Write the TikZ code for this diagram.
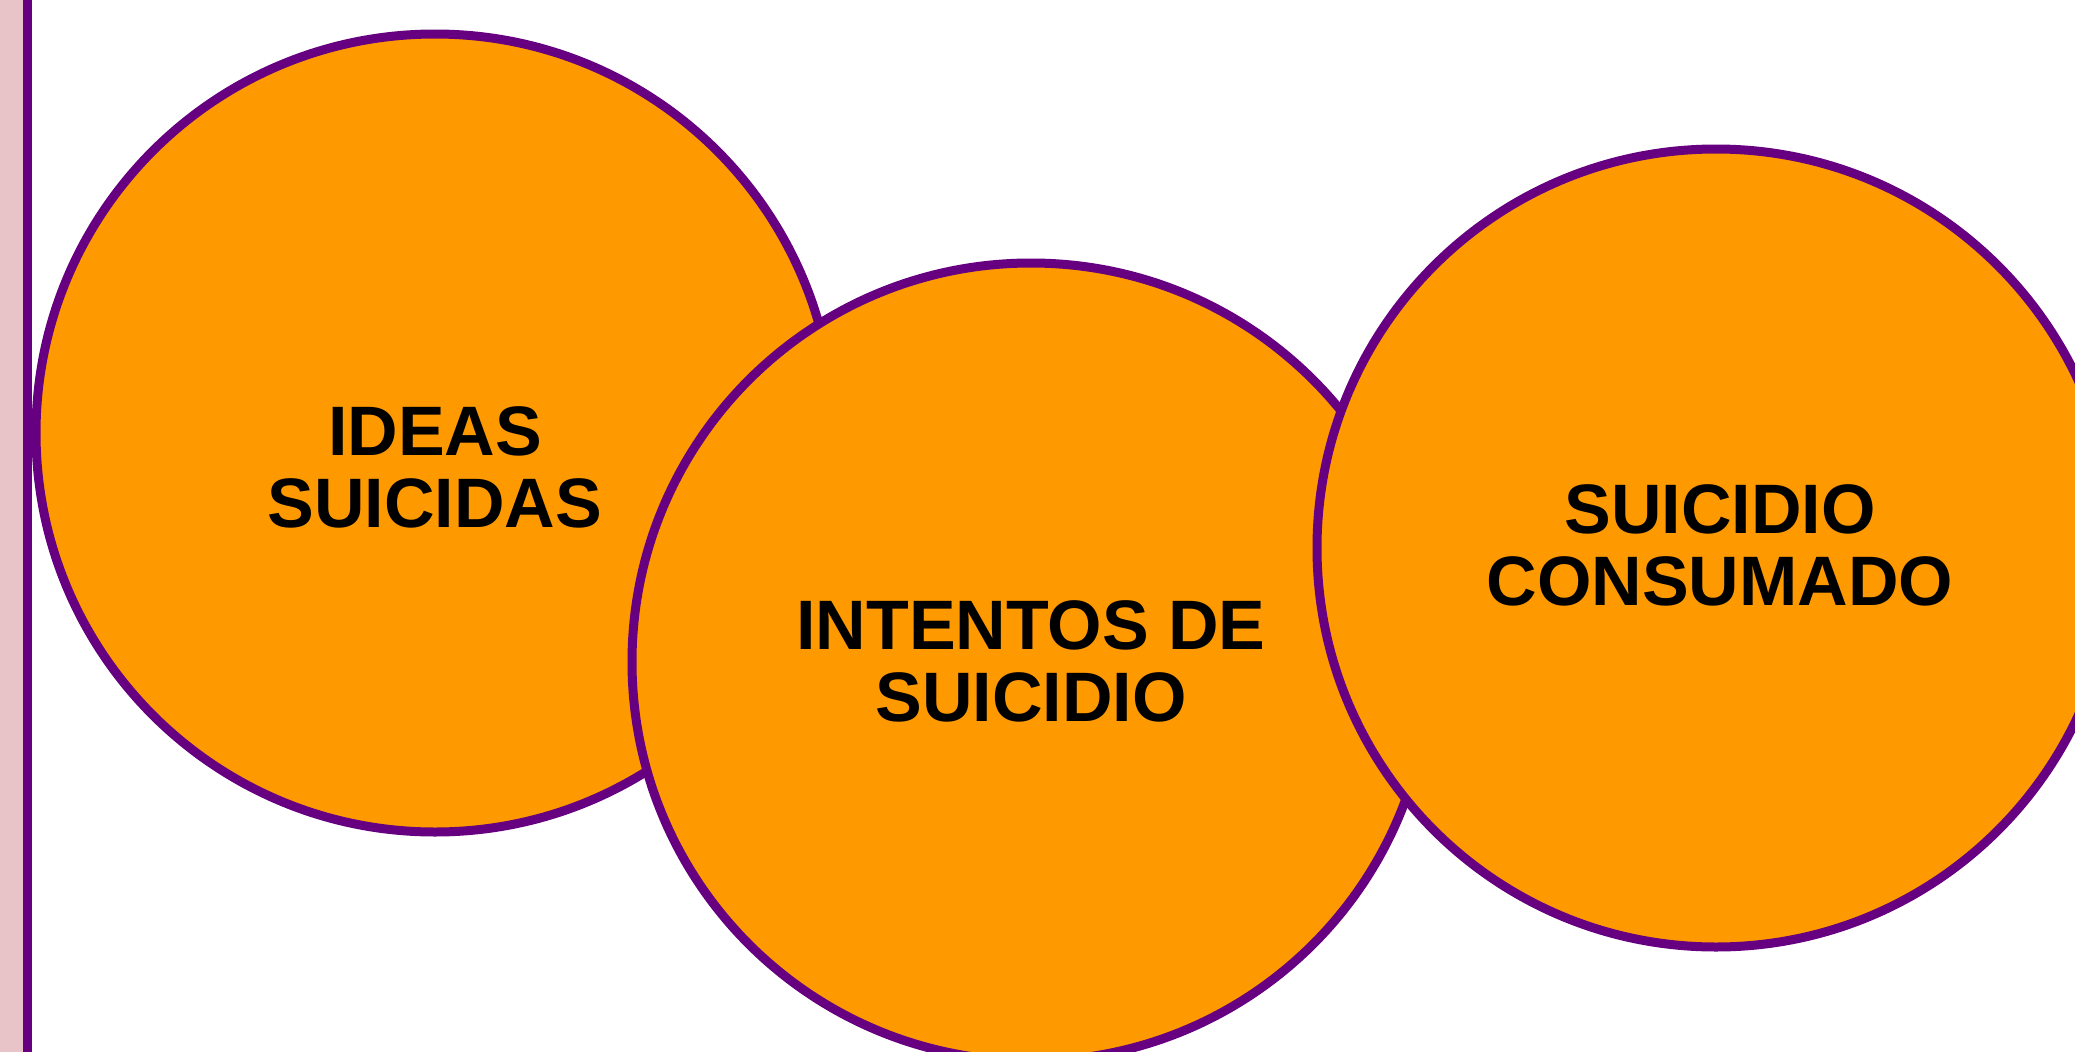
\documentclass[tikz,border=0pt]{standalone}
\usepackage{fontspec}
\setmainfont{Liberation Sans}
\definecolor{orng}{HTML}{FF9900}
\definecolor{purp}{HTML}{660080}
\definecolor{pinkstrip}{HTML}{E8C3C7}
\begin{document}
\begin{tikzpicture}[x=1pt,y=-1pt,
  bubble/.style={circle, fill=orng, draw=purp, line width=9pt, minimum size=798pt, inner sep=0pt, outer sep=0pt},
  lbl/.style={font=\bfseries\fontsize{70}{72}\selectfont, align=center, inner sep=0pt, text=black}]
\useasboundingbox (0,0) rectangle (2075,1052);
\clip (0,0) rectangle (2075,1052);
\fill[white] (0,0) rectangle (2075,1052);
\fill[pinkstrip] (0,0) rectangle (23,1052);
\fill[purp] (23,0) rectangle (32,1052);
\node[bubble] (c1) at (435,433) {};
\node[bubble] (c2) at (1031,662) {};
\node[bubble] (c3) at (1716,548) {};
\node[lbl] (t1) at (435,467) {IDEAS\\SUICIDAS};
\node[lbl] (t2) at (1031,661) {INTENTOS DE\\SUICIDIO};
\node[lbl] (t3) at (1720,545) {SUICIDIO\\CONSUMADO};
\end{tikzpicture}
\end{document}
